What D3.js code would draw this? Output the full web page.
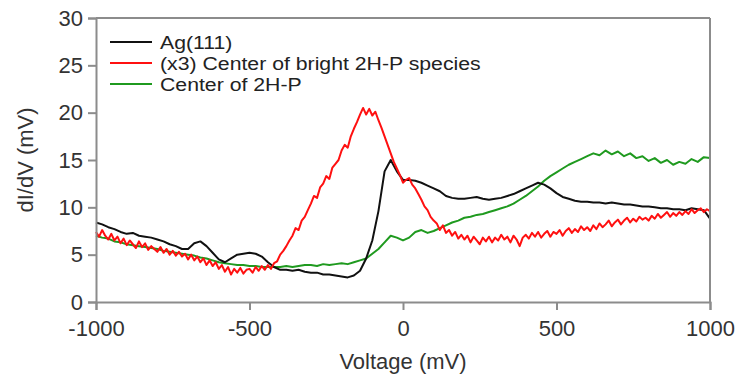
<!DOCTYPE html>
<html>
<head>
<meta charset="utf-8">
<script src="https://cdn.jsdelivr.net/npm/d3@7"></script>
<style>
  body { margin: 0; background: #fff; }
  svg { display: block; font-family: "Liberation Sans", Arial, sans-serif; }
  .tick text { fill: #333; font-size: 22px; }
  .axis-title { fill: #333; font-size: 22px; }
  .legend text { fill: #222; font-size: 18px; }
</style>
</head>
<body>
<svg id="chart" width="738" height="376"></svg>
<script>
// sweep grid (mV)
const V_MIN = -1000, V_MAX = 1000;
const STEP_COARSE = 20;   // Ag(111) and 2H-P traces
const STEP_FINE = 10;     // bright species trace (noisier)

const xTicks = [-1000, -500, 0, 500, 1000];
const yTicks = [0, 5, 10, 15, 20, 25, 30];

// Ag(111), every 20 mV
const agValues = [
  8.4, 8.2, 7.9, 7.7, 7.4, 7.2, 7.3, 7.0, 6.9, 6.8,
  6.6, 6.4, 6.1, 5.9, 5.6, 5.6, 6.2, 6.4, 5.9, 5.2,
  4.5, 4.2, 4.6, 5.0, 5.1, 5.2, 5.1, 4.8, 4.2, 3.7,
  3.4, 3.4, 3.3, 3.4, 3.2, 3.1, 3.1, 2.9, 2.9, 2.8,
  2.7, 2.6, 2.8, 3.3, 4.6, 6.5, 9.6, 13.8, 15.0, 13.8,
  12.9, 12.9, 12.8, 12.6, 12.3, 12.0, 11.7, 11.2, 11.0, 10.9,
  10.9, 11.0, 11.1, 10.9, 10.8, 10.9, 11.0, 11.2, 11.4, 11.7,
  12.0, 12.3, 12.6, 12.4, 12.0, 11.5, 11.1, 10.9, 10.7, 10.6,
  10.6, 10.5, 10.5, 10.4, 10.5, 10.4, 10.3, 10.3, 10.2, 10.1,
  10.1, 10.0, 9.9, 9.9, 9.8, 9.8, 9.7, 9.9, 9.8, 9.7,
  8.8
];

// (x3) center of bright 2H-P species, every 10 mV
const brightValues = [
  7.4, 6.9, 7.6, 7.0, 6.6, 7.2, 6.5, 6.9, 6.2, 6.7,
  6.0, 6.5, 6.1, 5.7, 6.4, 5.8, 6.2, 5.5, 5.9, 5.6,
  5.3, 5.8, 5.2, 5.6, 5.0, 5.4, 4.9, 5.3, 4.8, 5.1,
  4.5, 5.0, 4.4, 4.8, 4.2, 4.6, 3.9, 4.4, 3.8, 4.2,
  3.5, 3.9, 3.2, 3.7, 2.9, 3.5, 3.1, 3.6, 3.0, 3.4,
  3.5, 3.1, 3.7, 3.3, 3.8, 3.4, 3.9, 3.5, 4.1, 4.3,
  5.0, 5.4, 5.9, 6.5, 7.0, 7.8, 7.6, 8.6, 9.0, 9.7,
  10.4, 11.2, 11.0, 12.1, 12.5, 13.3, 13.0, 14.2, 14.6, 15.0,
  16.0, 16.6, 16.3, 17.5, 18.3, 19.0, 19.8, 20.5, 19.8, 20.4,
  19.7, 20.1, 19.2, 18.4, 17.5, 16.6, 15.7, 14.8, 14.1, 13.4,
  12.6, 12.9, 13.1, 12.4, 12.0, 11.4, 10.8, 10.1, 9.7, 9.0,
  8.6, 8.3, 7.6, 8.1, 7.3, 7.6, 7.0, 7.4, 6.7, 7.1,
  6.6, 7.0, 6.3, 6.9, 6.5, 6.1, 6.8, 6.4, 6.9, 6.3,
  6.8, 6.5, 7.1, 6.6, 6.9, 6.3, 7.0, 6.6, 5.9, 6.8,
  7.1, 6.7, 7.3, 6.9, 7.4, 6.8, 7.2, 7.5, 6.9, 7.4,
  7.2, 7.6, 7.0, 7.5, 7.8, 7.3, 7.7, 7.4, 8.0, 7.6,
  7.9, 7.5, 8.1, 7.7, 8.3, 7.9, 8.2, 8.6, 8.0, 8.4,
  8.7, 8.2, 8.6, 8.9, 8.4, 8.8, 8.5, 9.0, 8.7, 8.9,
  8.6, 9.1, 8.8, 9.3, 8.9, 9.2, 9.5, 9.0, 9.4, 9.1,
  9.5, 9.2, 9.6, 9.3, 9.8, 9.4, 9.7, 9.9, 9.5, 9.8,
  9.6
];

// center of 2H-P, every 20 mV
const centerValues = [
  7.0, 6.8, 6.7, 6.4, 6.3, 6.1, 6.0, 5.9, 5.8, 5.7,
  5.6, 5.4, 5.3, 5.2, 5.1, 5.0, 4.9, 4.7, 4.6, 4.4,
  4.2, 4.1, 4.0, 3.9, 3.9, 3.8, 3.8, 3.7, 3.7, 3.7,
  3.7, 3.8, 3.7, 3.8, 3.9, 3.9, 3.8, 4.0, 3.9, 4.0,
  4.1, 4.0, 4.2, 4.4, 4.6, 5.1, 5.6, 6.3, 7.0, 6.8,
  6.5, 6.8, 7.4, 7.6, 7.3, 7.5, 7.8, 8.1, 8.4, 8.6,
  8.9, 9.0, 9.2, 9.3, 9.5, 9.7, 9.9, 10.1, 10.4, 10.8,
  11.2, 11.7, 12.2, 12.8, 13.3, 13.7, 14.1, 14.5, 14.8, 15.1,
  15.4, 15.7, 15.5, 16.0, 15.6, 15.9, 15.4, 15.7, 15.2, 15.4,
  14.9, 15.2, 14.7, 15.0, 14.5, 14.8, 14.6, 15.1, 14.8, 15.3,
  15.2
];

const seriesNames = ["Ag(111)", "(x3) Center of bright 2H-P species", "Center of 2H-P"];
const seriesColors = ["#111111", "#ff1010", "#1f9a1f"];

const toPoints = (values, step) => values.map((v, i) => [V_MIN + i * step, v]);

const series = [
  { name: seriesNames[0], color: seriesColors[0], points: toPoints(agValues, STEP_COARSE) },
  { name: seriesNames[1], color: seriesColors[1], points: toPoints(brightValues, STEP_FINE) },
  { name: seriesNames[2], color: seriesColors[2], points: toPoints(centerValues, STEP_COARSE) }
];

const svg = d3.select("#chart");
const margin = { left: 96, right: 28, top: 18, bottom: 74 };
const width = +svg.attr("width");
const height = +svg.attr("height");

const x = d3.scaleLinear().domain([V_MIN, V_MAX]).range([margin.left, width - margin.right]);
const y = d3.scaleLinear().domain([0, 30]).range([height - margin.bottom, margin.top]);

const line = d3.line().x(d => x(d[0])).y(d => y(d[1]));

// green first, then black, red on top
const traces = svg.append("g").attr("class", "traces");
[series[2], series[0], series[1]].forEach(s => {
  traces.append("path")
    .datum(s.points)
    .attr("fill", "none")
    .attr("stroke", s.color)
    .attr("stroke-width", 2)
    .attr("stroke-linejoin", "round")
    .attr("d", line);
});

// frame top/right
const frameColor = "#8c8c8c";
svg.append("line")
  .attr("x1", x(V_MIN)).attr("x2", x(V_MAX))
  .attr("y1", y(30)).attr("y2", y(30))
  .attr("stroke", frameColor).attr("stroke-width", 2);
svg.append("line")
  .attr("x1", x(V_MAX)).attr("x2", x(V_MAX))
  .attr("y1", y(30)).attr("y2", y(0))
  .attr("stroke", frameColor).attr("stroke-width", 2);

const xAxis = svg.append("g")
  .attr("transform", `translate(0,${y(0)})`)
  .call(d3.axisBottom(x).tickValues(xTicks).tickSize(8).tickPadding(10).tickFormat(d3.format("d")));

const yAxis = svg.append("g")
  .attr("transform", `translate(${x(V_MIN)},0)`)
  .call(d3.axisLeft(y).tickValues(yTicks).tickSize(8).tickPadding(5));

[xAxis, yAxis].forEach(a => {
  a.select(".domain").attr("stroke", frameColor).attr("stroke-width", 2);
  a.selectAll(".tick line").attr("stroke", frameColor).attr("stroke-width", 2);
  a.attr("font-family", null).attr("font-size", null);
});
// plain hyphen for negatives, as in the reference
xAxis.selectAll(".tick text").text(d => String(d));

svg.append("text")
  .attr("class", "axis-title")
  .attr("x", x(0))
  .attr("y", 369)
  .attr("text-anchor", "middle")
  .text("Voltage (mV)");

svg.append("text")
  .attr("class", "axis-title")
  .attr("transform", `translate(33,${y(15)}) rotate(-90)`)
  .attr("text-anchor", "middle")
  .text("dI/dV (mV)");

// legend: text is a bit wide in the reference, stretch it horizontally
const legend = svg.append("g").attr("class", "legend");
series.forEach((s, i) => {
  const ly = 42 + i * 21;
  legend.append("line")
    .attr("x1", 110).attr("x2", 152)
    .attr("y1", ly).attr("y2", ly)
    .attr("stroke", s.color).attr("stroke-width", 2);
  const t = legend.append("text")
    .attr("x", 160).attr("y", ly + 7)
    .text(s.name);
  const w = t.node().getComputedTextLength();
  t.attr("textLength", w * 1.18).attr("lengthAdjust", "spacingAndGlyphs");
});
</script>
</body>
</html>
